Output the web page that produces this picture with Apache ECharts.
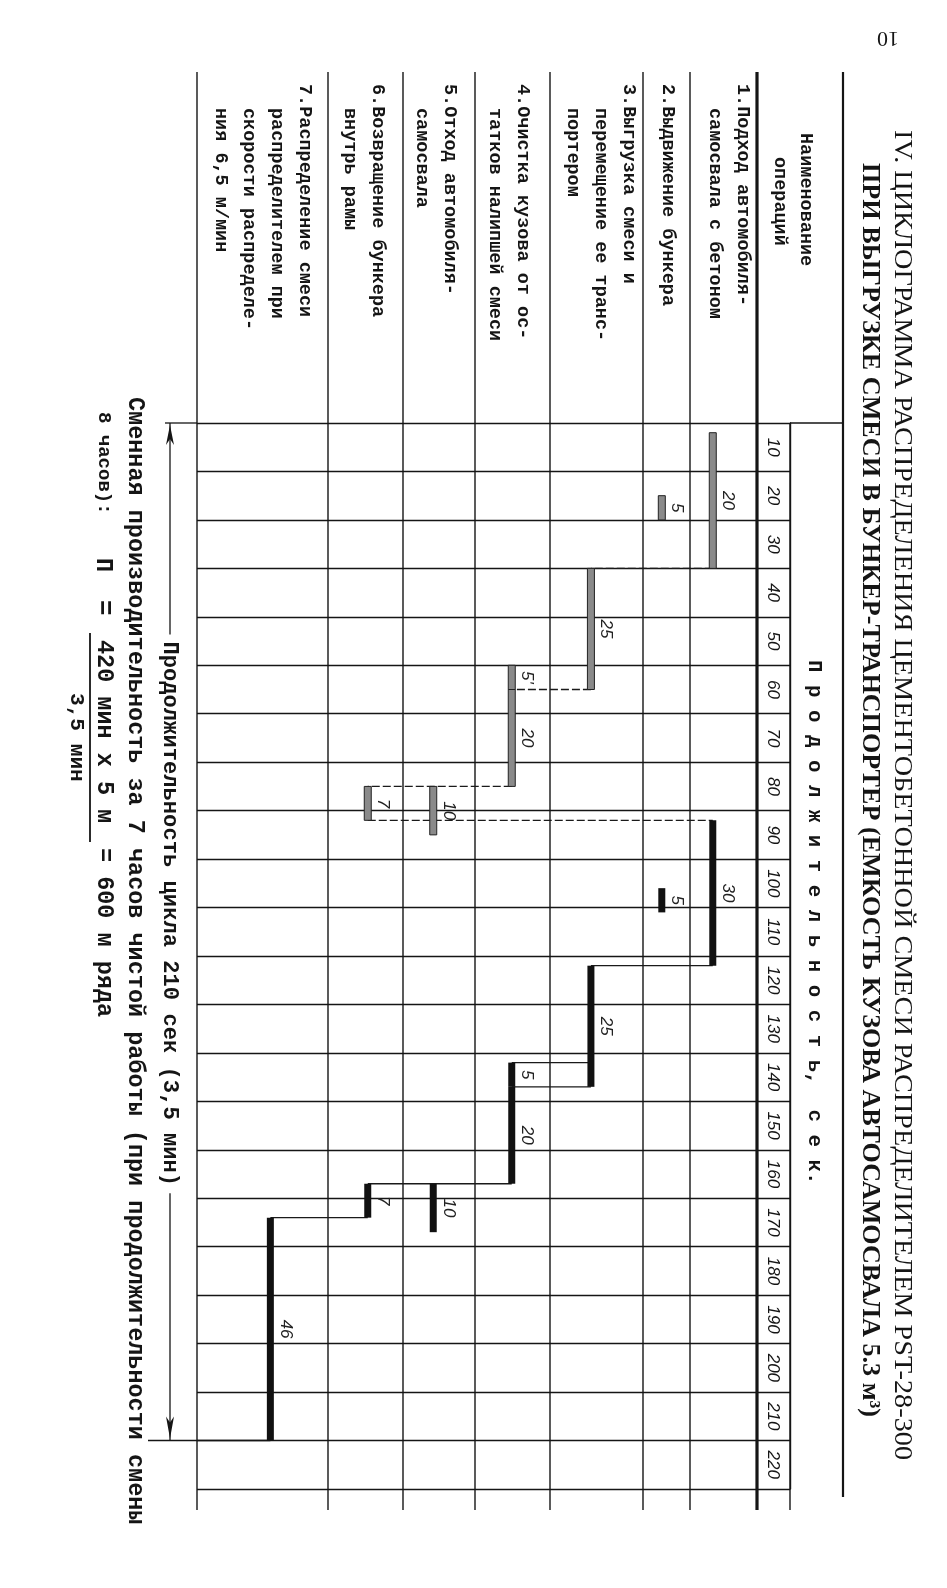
<!DOCTYPE html>
<html>
<head>
<meta charset="utf-8">
<script src="https://cdn.jsdelivr.net/npm/echarts@6/dist/echarts.min.js"></script>
<style>
html,body{margin:0;padding:0;background:#fff;}
#c{width:947px;height:1588px;}
</style>
</head>
<body>
<div id="c"></div>
<script>
// ===================== DATA =====================
const operations = [
  '1.Подход автомобиля-\nсамосвала с бетоном',
  '2.Выдвижение бункера',
  '3.Выгрузка смеси и\nперемещение ее транс-\nпортером',
  '4.Очистка кузова от ос-\nтатков налипшей смеси',
  '5.Отход автомобиля-\nсамосвала',
  '6.Возвращение бункера\nвнутрь рамы',
  '7.Распределение смеси\nраспределителем при\nскорости распределе-\nния 6,5 м/мин'
];
const tickLabels = ['10','20','30','40','50','60','70','80','90','100','110','120','130','140','150','160','170','180','190','200','210','220'];
const timeMax = 220;
const cycleTime = 210;

// first cycle (hatched bars): operation index, start, end (sec), written label
const c1Op    = [0, 1, 2, 3, 3, 4, 5];
const c1Start = [2, 15, 30, 50, 55, 75, 75];
const c1End   = [30, 20, 55, 55, 75, 85, 82];
const c1Label = ['20', '5', '25', "5'", '20', '10', '7'];

// second cycle (solid bars)
const c2Op    = [0, 1, 2, 3, 3, 4, 5, 6];
const c2Start = [82, 96, 112, 132, 137, 157, 157, 164];
const c2End   = [112, 101, 137, 137, 157, 167, 164, 210];
const c2Label = ['30', '5', '25', '5', '20', '10', '7', '46'];

// connecting lines: from operation, to operation, at time
const c1LinkFrom = [0, 2, 3, 5];
const c1LinkTo   = [2, 3, 5, 0];
const c1LinkTime = [30, 55, 75, 82];
const c2LinkFrom = [0, 3, 2, 3, 5];
const c2LinkTo   = [2, 2, 3, 5, 6];
const c2LinkTime = [112, 132, 137, 157, 164];

// ===================== LAYOUT / STYLE =====================
const GRID = {left: 197, right: 157, top: 423, bottom: 99};
const opColWidth = [67, 47, 93, 75, 72, 75, 131];   // column widths (op1..op7), layout units
const numColWidth = 33;
const barFrac = [0.34, 0.40, 0.44, 0.49, 0.42, 0.53, 0.56];
const nameOffset = [14, 22, 14, 27, 25, 25, 23];
const lineGap = 28;
const HEADER_TOP = 72, TABLE_BOTTOM = 1510, RIGHT_BORDER = 843;
const INK = '#151515';
const MONO = '"Liberation Mono", "DejaVu Sans Mono", monospace';
const SERIF = '"Liberation Serif", "DejaVu Serif", serif';
const HAND = '"Liberation Sans", "DejaVu Sans", sans-serif';

const totalUnits = opColWidth.reduce((a, b) => a + b, 0) + numColWidth;
function colLeft(op) { let s = 0; for (let j = op + 1; j < opColWidth.length; j++) s += opColWidth[j]; return s; }
function barX(op) { return colLeft(op) + opColWidth[op] * barFrac[op]; }

const barRows = [];
const barLabels = [];
c1Op.forEach((op, i) => { barRows.push([op, c1Start[i], c1End[i], 1]); barLabels.push(c1Label[i]); });
c2Op.forEach((op, i) => { barRows.push([op, c2Start[i], c2End[i], 2]); barLabels.push(c2Label[i]); });
const linkRows = [];
c1LinkFrom.forEach((f, i) => linkRows.push([f, c1LinkTo[i], c1LinkTime[i], 1]));
c2LinkFrom.forEach((f, i) => linkRows.push([f, c2LinkTo[i], c2LinkTime[i], 2]));

function measure(text, family, weight, size) {
  const ctx = document.createElement('canvas').getContext('2d');
  ctx.font = weight + ' ' + size + 'px ' + family;
  return ctx.measureText(text).width;
}
function fitSize(text, family, weight, target) {
  return 100 * target / measure(text, family, weight, 100);
}
function tstyle(text, o) {
  return Object.assign({text: text, fill: INK, align: 'left', verticalAlign: 'middle',
    textAlign: 'left', textVerticalAlign: 'middle'}, o);
}
function vtext(text, x, y, o, sx) {
  return {type: 'text', x: x, y: y, rotation: -Math.PI / 2, scaleX: sx || 1, scaleY: 1,
    silent: true, style: tstyle(text, o)};
}

const chart = echarts.init(document.getElementById('c'));

const option = {
  animation: false,
  backgroundColor: '#fff',
  grid: Object.assign({containLabel: false}, GRID),
  xAxis: {type: 'value', min: 0, max: totalUnits, show: false},
  yAxis: [
    {type: 'value', inverse: true, min: 0, max: timeMax, interval: 10,
     axisLine: {show: false}, axisTick: {show: false}, axisLabel: {show: false},
     splitLine: {show: true, showMinLine: true, showMaxLine: true, lineStyle: {color: INK, width: 1.4}}},
    {type: 'category', data: tickLabels, inverse: true, position: 'right',
     axisLine: {show: true, lineStyle: {color: INK, width: 1.4}},
     axisTick: {show: false}, splitLine: {show: false},
     axisLabel: {inside: true, rotate: -90, margin: 17, fontSize: 17, fontStyle: 'italic',
       fontFamily: HAND, color: INK, align: 'center', verticalAlign: 'middle'}}
  ],
  series: [
    {
      type: 'custom', name: 'operations', coordinateSystem: 'cartesian2d', z: 5,
      data: barRows,
      encode: {x: 0, y: [1, 2]},
      renderItem: function (params, api) {
        const op = api.value(0), s = api.value(1), e = api.value(2), cyc = api.value(3);
        const p1 = api.coord([barX(op), s]);
        const p2 = api.coord([barX(op), e]);
        const w = 7;
        const label = barLabels[params.dataIndex];
        return {type: 'group', children: [
          {type: 'rect', shape: {x: p1[0] - w / 2, y: p1[1], width: w, height: p2[1] - p1[1]},
           style: cyc === 1 ? {fill: '#8a8a8a', stroke: '#222', lineWidth: 1} : {fill: '#111'}},
          {type: 'text', x: p1[0] + 15, y: (p1[1] + p2[1]) / 2, rotation: -Math.PI / 2,
           style: tstyle(label, {fontSize: 17, fontStyle: 'italic', fontFamily: HAND, fill: '#222',
             align: 'center', textAlign: 'center'})}
        ]};
      }
    },
    {
      type: 'custom', name: 'links', coordinateSystem: 'cartesian2d', z: 4,
      data: linkRows,
      encode: {x: 0, y: 2},
      renderItem: function (params, api) {
        const f = api.value(0), t = api.value(1), tm = api.value(2), cyc = api.value(3);
        const a = api.coord([barX(f), tm]);
        const b = api.coord([barX(t), tm]);
        return {type: 'line', shape: {x1: a[0], y1: a[1], x2: b[0], y2: b[1]},
          style: {stroke: '#1a1a1a', lineWidth: 1.3, lineDash: cyc === 1 ? [8, 3] : null}};
      }
    },
    {
      type: 'custom', name: 'cycle', coordinateSystem: 'cartesian2d', z: 4,
      data: [[0, cycleTime]],
      encode: {x: 0, y: 1},
      renderItem: function (params, api) {
        const T = api.value(1);
        const top = api.coord([0, 0]);
        const bot = api.coord([0, T]);
        const op7 = api.coord([barX(6), T]);
        const ax = top[0] - 27;
        const mid = (top[1] + bot[1]) / 2;
        const txt = 'Продолжительность цикла 210 сек (3,5 мин)';
        return {type: 'group', children: [
          {type: 'line', shape: {x1: ax, y1: top[1], x2: ax, y2: bot[1]}, style: {stroke: INK, lineWidth: 1.3}},
          {type: 'line', shape: {x1: ax - 5, y1: top[1], x2: top[0], y2: top[1]}, style: {stroke: INK, lineWidth: 1.3}},
          {type: 'line', shape: {x1: top[0] - 49, y1: bot[1], x2: op7[0], y2: bot[1]}, style: {stroke: INK, lineWidth: 1.6}},
          {type: 'polygon', shape: {points: [[ax, top[1] + 2], [ax - 4, top[1] + 22], [ax, top[1] + 16], [ax + 4, top[1] + 22]]}, style: {fill: INK}},
          {type: 'polygon', shape: {points: [[ax, bot[1] - 2], [ax - 4, bot[1] - 24], [ax, bot[1] - 18], [ax + 4, bot[1] - 24]]}, style: {fill: INK}},
          {type: 'text', x: ax, y: mid - 18, rotation: -Math.PI / 2,
           style: tstyle(txt, {
             fontSize: fitSize(txt, MONO, 'bold', 545),
             fontFamily: MONO, fontWeight: 'bold', align: 'center', textAlign: 'center',
             backgroundColor: '#fff', padding: [0, 7]})}
        ]};
      }
    }
  ]
};
chart.setOption(option);

// ===================== TABLE FRAME & TEXTS =====================
function px(u, t) { return chart.convertToPixel({xAxisIndex: 0, yAxisIndex: 0}, [u, t]); }
const g = [];
const lineStyle = (w) => ({stroke: INK, lineWidth: w});
const t0 = px(0, 0)[1];

// operation column separators (full height)
for (let op = 6; op >= 0; op--) {
  const x = px(colLeft(op), 0)[0];
  g.push({type: 'line', silent: true, shape: {x1: x, y1: HEADER_TOP, x2: x, y2: TABLE_BOTTOM}, style: lineStyle(1.4)});
}
// thick header border (right edge of op1 column)
const xThick = px(colLeft(0) + opColWidth[0], 0)[0];
g.push({type: 'line', silent: true, shape: {x1: xThick, y1: HEADER_TOP, x2: xThick, y2: TABLE_BOTTOM}, style: lineStyle(3.2)});
const xNum = px(totalUnits, 0)[0];
g.push({type: 'line', silent: true, shape: {x1: xNum, y1: t0, x2: xNum, y2: TABLE_BOTTOM}, style: lineStyle(1.4)});
g.push({type: 'line', silent: true, shape: {x1: RIGHT_BORDER, y1: HEADER_TOP, x2: RIGHT_BORDER, y2: 1497}, style: lineStyle(2.2)});
g.push({type: 'line', silent: true, shape: {x1: xNum, y1: t0, x2: RIGHT_BORDER, y2: t0}, style: lineStyle(1.4)});

// operation names
const nameSize = 18.5;
operations.forEach((name, i) => {
  const right = px(colLeft(i) + opColWidth[i], 0)[0];
  name.split('\n').forEach((ln, k) => {
    g.push(vtext(ln, right - nameOffset[i] - k * lineGap, k === 0 ? 84 : 108,
      {fontSize: nameSize, fontFamily: MONO, fontWeight: 'bold'}));
  });
});
// header
g.push(vtext('Наименование', 806, 133, {fontSize: nameSize, fontFamily: MONO, fontWeight: 'bold'}));
g.push(vtext('операций', 780, 157, {fontSize: nameSize, fontFamily: MONO, fontWeight: 'bold'}));
const durTxt = 'П р о д о л ж и т е л ь н о с т ь,  с е к.';
g.push(vtext(durTxt, 814, 660, {fontSize: fitSize(durTxt, MONO, 'bold', 525), fontFamily: MONO, fontWeight: 'bold'}));

// title (condensed serif) & page number
const title1 = 'IV. ЦИКЛОГРАММА РАСПРЕДЕЛЕНИЯ ЦЕМЕНТОБЕТОННОЙ СМЕСИ РАСПРЕДЕЛИТЕЛЕМ PST-28-300';
const title2 = 'ПРИ ВЫГРУЗКЕ СМЕСИ В БУНКЕР-ТРАНСПОРТЕР (ЕМКОСТЬ КУЗОВА АВТОСАМОСВАЛА 5.3 м³)';
const TS = 25;
g.push(vtext(title1, 902, 130, {fontSize: TS, fontFamily: SERIF},
  1330 / measure(title1, SERIF, 'normal', TS)));
g.push(vtext(title2, 869, 163, {fontSize: TS, fontFamily: SERIF, fontWeight: 'bold'},
  1254 / measure(title2, SERIF, 'bold', TS)));
g.push({type: 'text', x: 888, y: 38, rotation: Math.PI, silent: true,
  style: tstyle('10', {fontSize: 22, fontFamily: SERIF, align: 'center', textAlign: 'center'})});

// productivity formula
const prodTxt = 'Сменная производительность за 7 часов чистой работы (при продолжительности смены';
const fs2 = fitSize(prodTxt, MONO, 'bold', 1128);
const f2 = {fontSize: fs2, fontFamily: MONO, fontWeight: 'bold'};
const f3 = {fontSize: 19, fontFamily: MONO, fontWeight: 'bold'};
g.push(vtext(prodTxt, 135, 397, f2));
g.push(vtext('8 часов):', 104, 412, f3));
g.push(vtext('П', 103, 558, f2));
g.push(vtext('=', 103, 600, Object.assign({}, f2, {fontSize: fs2 * 1.1})));
g.push(vtext('420 мин х 5 м', 104, 640, f2));
g.push({type: 'line', silent: true, shape: {x1: 90, y1: 633, x2: 90, y2: 842}, style: lineStyle(1.8)});
g.push(vtext('3,5 мин', 76, 693, Object.assign({}, f2, {fontSize: fs2 * 0.9})));
g.push(vtext('= 600 м ряда', 104, 848, f2));

chart.setOption({graphic: {elements: g}});
</script>
</body>
</html>
